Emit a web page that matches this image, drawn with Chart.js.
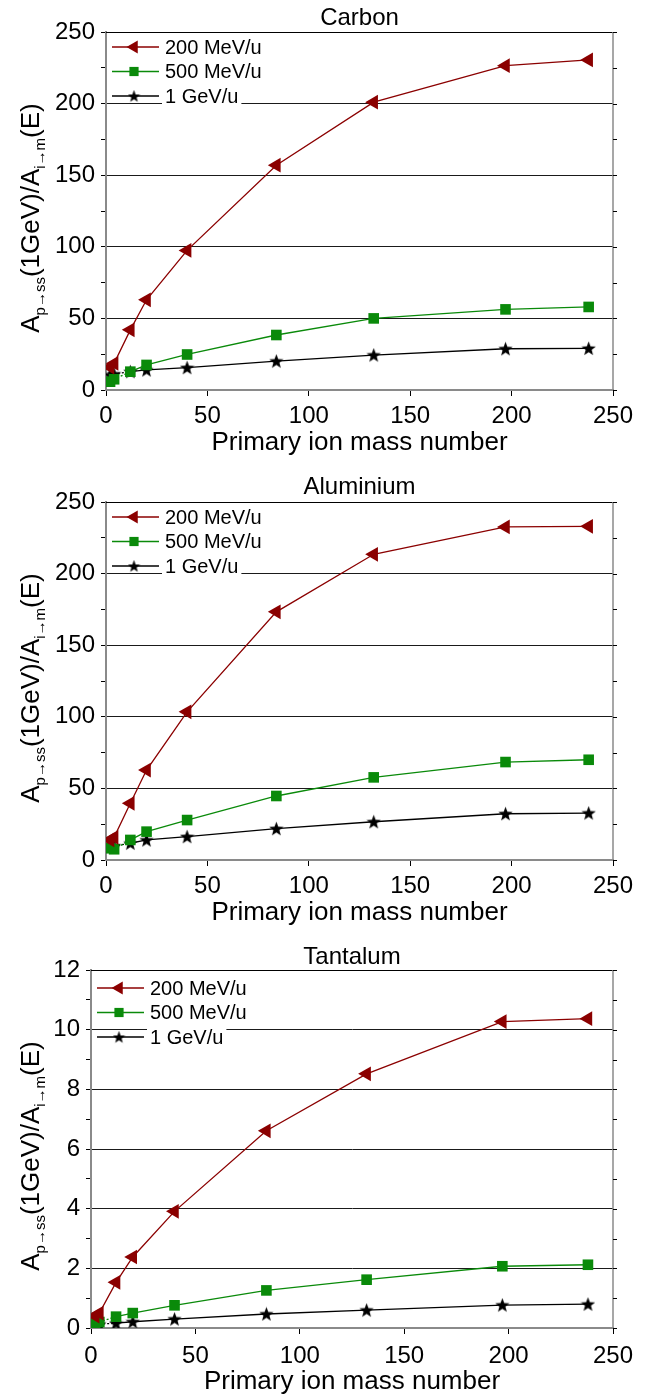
<!DOCTYPE html>
<html>
<head>
<meta charset="utf-8">
<script src="https://cdn.jsdelivr.net/npm/chart.js@4.4.1/dist/chart.umd.min.js"></script>
<style>
html, body { margin: 0; padding: 0; background: #fff; }
.panel { position: absolute; left: 0; width: 646px; height: 465px; }
</style>
</head>
<body>
<div class="panel" style="top:0px"><canvas id="carbonChart" width="646" height="465"></canvas></div>
<div class="panel" style="top:470px"><canvas id="aluminiumChart" width="646" height="465"></canvas></div>
<div class="panel" style="top:930px"><canvas id="tantalumChart" width="646" height="465"></canvas></div>
<script>
'use strict';

// mass number of the primary ion (x axis)
const massNumbers = [2, 4, 12, 20, 40, 84, 132, 197, 238];
const seriesLabels = ["200 MeV/u", "500 MeV/u", "1 GeV/u"];

// Carbon target
const carbon200 = [16, 18.6, 42, 63, 97.5, 157, 201, 226.5, 230.5];
const carbon500 = [5.8, 7.5, 12.8, 17.5, 24.8, 38.4, 50, 56.3, 58];
const carbon1000 = [10.5, 11.2, 12.8, 14, 15.6, 20.2, 24.4, 28.8, 29.1];

// Aluminium target
const aluminium200 = [14, 15.8, 39.6, 62.8, 103.5, 173.3, 213.5, 232.6, 233];
const aluminium500 = [8.2, 7.5, 14, 19.8, 27.9, 44.7, 57.7, 68.4, 70];
const aluminium1000 = [9.8, 9.8, 11.7, 14, 16.3, 21.9, 26.7, 32.3, 32.8];

// Tantalum target
const tantalum200 = [0.4, 0.5, 1.53, 2.38, 3.91, 6.61, 8.52, 10.27, 10.37];
const tantalum500 = [0.16, 0.2, 0.38, 0.5, 0.76, 1.26, 1.62, 2.07, 2.12];
const tantalum1000 = [0.12, 0.13, 0.16, 0.21, 0.3, 0.47, 0.6, 0.77, 0.8];

const FONT = '"Liberation Sans", Arial, sans-serif';
Chart.defaults.font.family = FONT;
Chart.defaults.color = '#000';

// filled 5 point star for the 1 GeV/u series
function makeStar(size) {
  let c = document.createElement('canvas');
  c.width = size; c.height = size;
  let g = c.getContext('2d');
  let r = size / 2, ri = r * 0.42;
  g.beginPath();
  for (let i = 0; i < 10; i++) {
    let rad = (i % 2 === 0) ? r : ri;
    let a = -Math.PI / 2 + i * Math.PI / 5;
    let px = r + Math.cos(a) * rad, py = r + 0.6 + Math.sin(a) * rad;
    if (i === 0) g.moveTo(px, py); else g.lineTo(px, py);
  }
  g.closePath();
  g.fillStyle = '#000';
  g.fill();
  return c;
}
const starImg = makeStar(15);
const starSmall = makeStar(13);

const styles = [
  { color: '#8b0000', pointStyle: 'triangle', radius: 8.5, rotation: -90, dotted: false },
  { color: '#0a8a0a', pointStyle: 'rect', radius: 7.5, rotation: 0, dotted: true },
  { color: '#000000', pointStyle: starImg, legendStyle: starSmall, radius: 7, rotation: 0, dotted: true }
];

function toPoints(values) {
  return massNumbers.map((m, i) => ({ x: m, y: values[i] }));
}

// y axis title with subscripts
function drawYTitle(ctx, cx, cy) {
  let parts = [['A', 0], ['p\u2192ss', 1], ['(1GeV)/A', 0], ['i\u2192m', 1], ['(E)', 0]];
  let mainFont = '26px ' + FONT, subFont = '15px ' + FONT;
  let total = 0;
  parts.forEach(p => { ctx.font = p[1] ? subFont : mainFont; total += ctx.measureText(p[0]).width; });
  ctx.save();
  ctx.translate(cx, cy);
  ctx.rotate(-Math.PI / 2);
  ctx.fillStyle = '#000';
  ctx.textBaseline = 'alphabetic';
  ctx.textAlign = 'left';
  let x = -total / 2;
  parts.forEach(p => {
    ctx.font = p[1] ? subFont : mainFont;
    ctx.fillText(p[0], x, p[1] ? 6 : 0);
    x += ctx.measureText(p[0]).width;
  });
  ctx.restore();
}

const panelDecor = {
  id: 'panelDecor',
  afterDatasetsDraw(chart, args, opts) {
    const ctx = chart.ctx;
    const area = chart.chartArea;
    const yScale = chart.scales.y;

    // frame: top and right sides
    ctx.save();
    ctx.strokeStyle = '#000';
    ctx.lineWidth = 1;
    ctx.beginPath();
    ctx.moveTo(area.left, area.top + 0.5);
    ctx.lineTo(area.right, area.top + 0.5);
    ctx.stroke();
    ctx.strokeStyle = '#8a8a8a';
    ctx.lineWidth = 1.5;
    ctx.beginPath();
    ctx.moveTo(area.right, area.top);
    ctx.lineTo(area.right, area.bottom);
    ctx.stroke();
    ctx.strokeStyle = '#000';
    ctx.lineWidth = 1;
    yScale.ticks.forEach(t => {
      let py = Math.round(yScale.getPixelForValue(t.value)) + 0.5;
      ctx.beginPath();
      ctx.moveTo(area.right, py);
      ctx.lineTo(area.right + 4, py);
      ctx.stroke();
    });

    // legend inside the plot, line + marker samples
    chart.data.datasets.forEach((ds, i) => {
      let st = styles[i];
      let rowY = area.top + opts.legendTop + i * 24.5;
      let x0 = area.left + 6;
      ctx.strokeStyle = st.color;
      ctx.lineWidth = 1.3;
      ctx.beginPath();
      ctx.moveTo(x0, rowY);
      ctx.lineTo(x0 + 47, rowY);
      ctx.stroke();
      ctx.fillStyle = st.color;
      Chart.helpers.drawPoint(ctx, { pointStyle: st.legendStyle || st.pointStyle, radius: st.radius - 1, rotation: st.rotation, borderWidth: 0 }, x0 + 22, rowY);
      ctx.font = '20px ' + FONT;
      let tx = area.left + 59;
      let w = ctx.measureText(ds.label).width;
      ctx.fillStyle = '#fff';
      ctx.fillRect(tx - 3, rowY - 11, w + 6, 22);
      ctx.fillStyle = '#000';
      ctx.textBaseline = 'middle';
      ctx.textAlign = 'left';
      ctx.fillText(ds.label, tx, rowY + 1);
    });

    // panel title
    ctx.font = '24px ' + FONT;
    ctx.fillStyle = '#000';
    ctx.textAlign = 'center';
    ctx.textBaseline = 'middle';
    ctx.fillText(opts.title, (area.left + area.right) / 2, area.top - opts.titleGap);

    drawYTitle(ctx, 39, (area.top + area.bottom) / 2 + 7);
    ctx.restore();
  }
};

function makePanel(canvasId, name, values, cfg) {
  let datasets = values.map((vals, i) => {
    let st = styles[i];
    return {
      label: seriesLabels[i],
      data: toPoints(vals),
      showLine: true,
      borderColor: st.color,
      backgroundColor: st.color,
      borderWidth: 1.3,
      pointStyle: st.pointStyle,
      pointRadius: st.radius,
      pointRotation: st.rotation,
      pointBorderWidth: 0,
      segment: st.dotted ? { borderDash: c => (c.p1DataIndex <= 2 ? [2, 2] : undefined) } : undefined
    };
  });

  return new Chart(document.getElementById(canvasId), {
    type: 'scatter',
    data: { datasets: datasets },
    options: {
      responsive: false,
      animation: false,
      layout: { padding: { top: cfg.padTop, right: 33, left: 0, bottom: 0 } },
      plugins: {
        legend: { display: false },
        tooltip: { enabled: false },
        panelDecor: { title: name, titleGap: cfg.titleGap, legendTop: cfg.legendTop }
      },
      scales: {
        x: {
          type: 'linear',
          min: 0, max: 250,
          afterFit: s => { s.height = cfg.xHeight; },
          ticks: { stepSize: 50, padding: cfg.xTickPad, font: { size: 24 }, maxRotation: 0, autoSkip: false },
          grid: { drawOnChartArea: false, drawTicks: true, tickLength: 6, tickColor: '#000' },
          border: { color: '#8a8a8a', width: 2 },
          title: { display: true, text: 'Primary ion mass number', font: { size: 26, lineHeight: 1 }, padding: { top: 0, bottom: cfg.xTitlePad } }
        },
        y: {
          min: 0, max: cfg.yMax,
          afterFit: s => { s.width = cfg.yWidth; },
          ticks: {
            stepSize: cfg.yStep, autoSkip: false, padding: 6, font: { size: 24 },
            callback: v => (Math.round(v / cfg.yStep) % 2 === 0 ? v : '')
          },
          grid: {
            color: c => (c.tick && Math.round(c.tick.value / cfg.yStep) % 2 === 0 && c.tick.value !== 0 ? '#1a1a1a' : 'rgba(0,0,0,0)'),
            tickColor: '#000',
            tickLength: 5,
            lineWidth: 1
          },
          border: { color: '#8a8a8a', width: 2 }
        }
      }
    },
    plugins: [panelDecor]
  });
}

makePanel('carbonChart', 'Carbon', [carbon200, carbon500, carbon1000],
  { padTop: 32, xHeight: 75, yWidth: 106, yMax: 250, yStep: 25, titleGap: 14, legendTop: 15, xTickPad: 6, xTitlePad: 9 });
makePanel('aluminiumChart', 'Aluminium', [aluminium200, aluminium500, aluminium1000],
  { padTop: 32, xHeight: 75, yWidth: 106, yMax: 250, yStep: 25, titleGap: 15, legendTop: 15, xTickPad: 6, xTitlePad: 9 });
makePanel('tantalumChart', 'Tantalum', [tantalum200, tantalum500, tantalum1000],
  { padTop: 40, xHeight: 67, yWidth: 91, yMax: 12, yStep: 1, titleGap: 13, legendTop: 18, xTickPad: 8, xTitlePad: 0 });
</script>
</body>
</html>
